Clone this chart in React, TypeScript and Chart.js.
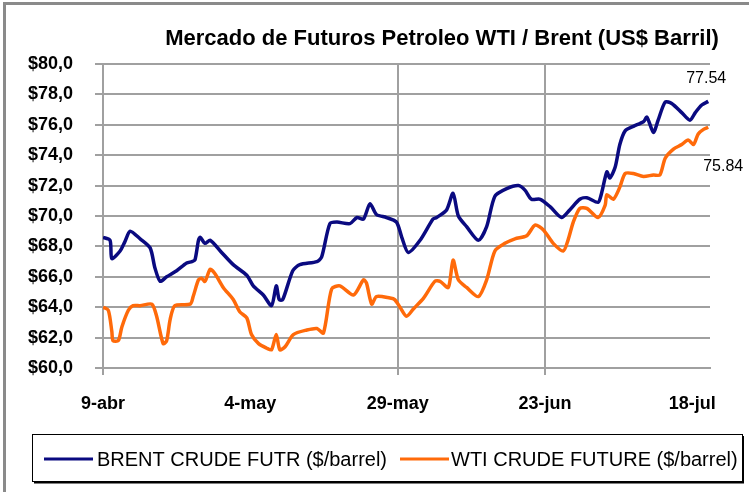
import React, { useEffect, useRef } from "react";
import { Chart, registerables } from "chart.js";

Chart.register(...registerables);

const titleText = "Mercado de Futuros Petroleo WTI / Brent (US$ Barril)";
const tickDays = [0, 25, 50, 75, 100];
const tickLabels = ["9-abr", "4-may", "29-may", "23-jun", "18-jul"];
const gridlessTicks = [25, 100];

const brentName = "BRENT CRUDE FUTR ($/barrel)";
const brentDays = [0, 1.2, 1.5, 2.9, 3.7, 4.6, 6.3, 8.0, 8.8, 9.7, 10.8, 12.5, 14.2, 15.1, 15.6, 16.2, 16.5, 17.3, 18.2, 19.9, 22.1, 24.4, 25.5, 27.2, 28.6, 29.4, 29.9, 30.5, 32.2, 33.4, 36.3, 37.1, 38.5, 39.7, 41.9, 43.1, 44.2, 45.3, 46.4, 48.1, 49.8, 50.7, 51.8, 53.8, 56.0, 56.6, 58.3, 59.4, 60.3, 61.7, 63.7, 65.1, 66.5, 68.5, 70.5, 71.6, 72.7, 74.2, 75.9, 77.8, 79.2, 80.9, 82.1, 84.0, 84.6, 85.5, 86.0, 86.9, 87.7, 88.6, 90.0, 91.7, 92.3, 93.4, 94.2, 95.4, 96.5, 98.2, 99.6, 100.5, 101.6, 102.7];
const brentValues = [68.6, 68.4, 67.2, 67.7, 68.3, 69.0, 68.5, 67.9, 66.6, 65.7, 66.0, 66.4, 66.9, 67.0, 67.1, 68.4, 68.6, 68.2, 68.4, 67.7, 66.8, 66.1, 65.4, 64.8, 64.1, 65.4, 64.5, 64.5, 66.4, 66.8, 67.0, 67.3, 69.5, 69.6, 69.5, 69.9, 69.8, 70.8, 70.1, 69.9, 69.6, 68.6, 67.6, 68.4, 69.8, 69.9, 70.4, 71.5, 70.0, 69.3, 68.4, 69.3, 71.3, 71.8, 72.0, 71.7, 71.1, 71.1, 70.6, 69.9, 70.4, 71.1, 71.2, 70.9, 71.5, 72.9, 72.5, 73.2, 74.7, 75.6, 75.9, 76.2, 76.5, 75.5, 76.3, 77.5, 77.4, 76.8, 76.3, 76.8, 77.3, 77.54];

const wtiName = "WTI CRUDE FUTURE ($/barrel)";
const wtiDays = [0, 0.9, 1.5, 1.7, 2.6, 3.2, 4.3, 5.1, 6.3, 8.3, 9.1, 10.2, 10.8, 11.4, 12.2, 14.8, 15.3, 16.2, 16.7, 17.3, 18.2, 19.0, 20.4, 22.1, 23.2, 24.4, 25.2, 26.4, 27.8, 28.6, 29.4, 30.0, 30.9, 32.3, 34.6, 36.3, 37.4, 38.8, 40.2, 42.5, 44.2, 44.7, 45.6, 46.4, 48.7, 49.5, 50.4, 51.5, 52.7, 54.4, 56.3, 57.2, 58.6, 59.4, 60.3, 61.7, 63.7, 65.1, 66.5, 68.2, 69.9, 71.9, 73.3, 74.7, 76.4, 78.1, 78.9, 79.8, 80.9, 82.1, 84.0, 85.2, 85.5, 86.6, 87.7, 88.6, 90.0, 91.7, 93.4, 94.5, 95.4, 96.8, 98.2, 99.3, 100.2, 101.0, 101.9, 102.7];
const wtiValues = [64.0, 63.8, 62.4, 61.8, 61.8, 62.7, 63.8, 64.1, 64.1, 64.2, 63.4, 61.6, 61.8, 63.2, 64.1, 64.2, 64.7, 65.8, 65.9, 65.7, 66.5, 66.2, 65.3, 64.5, 63.7, 63.3, 62.2, 61.6, 61.3, 61.2, 62.2, 61.2, 61.4, 62.2, 62.5, 62.6, 62.3, 65.2, 65.4, 64.8, 65.8, 65.6, 64.2, 64.7, 64.6, 64.5, 64.0, 63.4, 63.9, 64.6, 65.7, 65.7, 65.3, 67.1, 65.8, 65.3, 64.7, 65.8, 67.7, 68.2, 68.5, 68.7, 69.4, 69.1, 68.2, 67.7, 68.4, 69.6, 70.5, 70.5, 69.9, 70.7, 71.4, 71.1, 71.9, 72.8, 72.8, 72.6, 72.7, 72.7, 73.8, 74.4, 74.7, 75.0, 74.7, 75.4, 75.7, 75.84];

const brentColor = "#0a0a80";
const wtiColor = "#ff6a0a";
const gridColor = "#a0a0a0";
const FONT = "'Liberation Sans', Arial, sans-serif";

const toPoints = (xs: number[], ys: number[]) => xs.map((x, i) => ({ x, y: ys[i] }));

const decorPlugin = {
  id: "decor",
  beforeDraw(chart: any) {
    const ctx = chart.ctx;
    ctx.save();
    ctx.fillStyle = "#ffffff";
    ctx.fillRect(0, 0, chart.width, chart.height);
    ctx.strokeStyle = "#8a8a8a";
    ctx.lineWidth = 3;
    ctx.beginPath();
    ctx.moveTo(4.5, 492);
    ctx.lineTo(4.5, 3.5);
    ctx.lineTo(chart.width, 3.5);
    ctx.stroke();
    ctx.restore();
  },
  afterDraw(chart: any) {
    const ctx = chart.ctx;
    ctx.save();
    // title
    ctx.fillStyle = "#000";
    ctx.font = `bold 22px ${FONT}`;
    ctx.textAlign = "center";
    ctx.textBaseline = "middle";
    ctx.fillText(titleText, 442, 39);

    // end labels
    const xs = chart.scales.x;
    const ys = chart.scales.y;
    ctx.font = `16px ${FONT}`;
    const bi = brentDays.length - 1;
    const wi = wtiDays.length - 1;
    ctx.fillText(brentValues[bi].toFixed(2), xs.getPixelForValue(brentDays[bi]) - 2, ys.getPixelForValue(brentValues[bi]) - 23);
    ctx.fillText(wtiValues[wi].toFixed(2), xs.getPixelForValue(wtiDays[wi]) + 15, ys.getPixelForValue(wtiValues[wi]) + 39);

    // legend box
    const L = 32, T = 434, R = 742, B = 481;
    ctx.strokeStyle = "#000";
    ctx.lineWidth = 1;
    ctx.strokeRect(L + 0.5, T + 0.5, R - L, B - T);
    ctx.fillStyle = "#000";
    ctx.fillRect(L + 2, B, R - L, 2.5);
    ctx.fillRect(R, T + 2, 2, B - T);
    const ly = 459;
    ctx.lineWidth = 3;
    ctx.strokeStyle = brentColor;
    ctx.beginPath();
    ctx.moveTo(44, ly);
    ctx.lineTo(93, ly);
    ctx.stroke();
    ctx.strokeStyle = wtiColor;
    ctx.beginPath();
    ctx.moveTo(400, ly);
    ctx.lineTo(449, ly);
    ctx.stroke();
    ctx.font = `20px ${FONT}`;
    ctx.textAlign = "left";
    ctx.fillStyle = "#000";
    ctx.fillText(brentName, 97, ly + 1);
    ctx.fillText(wtiName, 451, ly + 1);
    ctx.restore();
  },
};

export default function App() {
  const ref = useRef<HTMLCanvasElement | null>(null);
  useEffect(() => {
    document.body.style.margin = "0";
    if (!ref.current) return;
    const chart = new Chart(ref.current, {
      type: "line",
      data: {
        datasets: [
          {
            label: brentName,
            data: toPoints(brentDays, brentValues),
            borderColor: brentColor,
            backgroundColor: brentColor,
            borderWidth: 3.5,
            pointRadius: 0,
            tension: 0.25,
          },
          {
            label: wtiName,
            data: toPoints(wtiDays, wtiValues),
            borderColor: wtiColor,
            backgroundColor: wtiColor,
            borderWidth: 3.5,
            pointRadius: 0,
            tension: 0.25,
          },
        ],
      },
      options: {
        animation: false,
        responsive: false,
        devicePixelRatio: 1,
        layout: { padding: { left: 0, right: 39, top: 64, bottom: 66 } },
        plugins: { legend: { display: false }, title: { display: false }, tooltip: { enabled: false } },
        scales: {
          x: {
            type: "linear",
            min: 0,
            max: 103,
            afterBuildTicks: (scale: any) => {
              scale.ticks = tickDays.map((v) => ({ value: v }));
            },
            afterFit: (scale: any) => {
              scale.height = 60;
            },
            grid: {
              color: (c: any) => (c.tick && gridlessTicks.includes(c.tick.value) ? "rgba(0,0,0,0)" : gridColor),
              lineWidth: 2,
              tickLength: 7,
              drawTicks: true,
            },
            border: { display: true, color: gridColor, width: 2 },
            ticks: {
              autoSkip: false,
              maxRotation: 0,
              padding: 18,
              color: "#000",
              font: { family: FONT, size: 18, weight: "bold" },
              callback: (v: any) => {
                const i = tickDays.indexOf(Number(v));
                return i >= 0 ? tickLabels[i] : "";
              },
            },
          },
          y: {
            min: 60,
            max: 80,
            afterFit: (scale: any) => {
              scale.width = 103;
            },
            grid: { color: gridColor, lineWidth: 2, tickLength: 8 },
            border: { display: false },
            ticks: {
              stepSize: 2,
              padding: 22,
              color: "#000",
              font: { family: FONT, size: 18, weight: "bold" },
              callback: (v: any) => "$" + Number(v).toFixed(1).replace(".", ","),
            },
          },
        },
      },
      plugins: [decorPlugin],
    } as any);
    return () => chart.destroy();
  }, []);
  return (
    <div style={{ width: 749, height: 494, position: "relative" }}>
      <canvas ref={ref} width={749} height={494} style={{ display: "block" }} />
    </div>
  );
}
